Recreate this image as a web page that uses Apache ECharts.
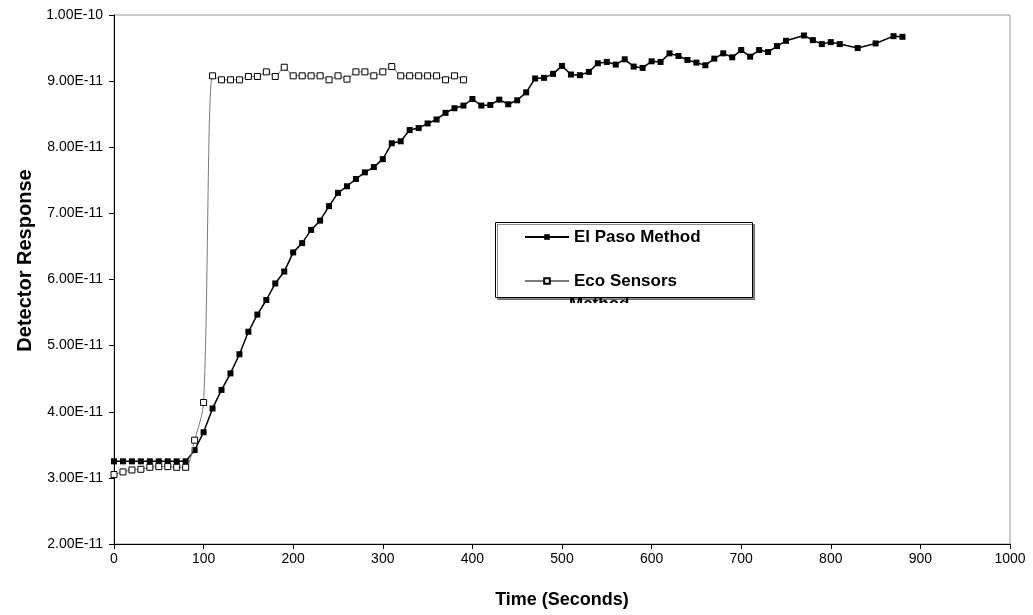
<!DOCTYPE html>
<html>
<head>
<meta charset="utf-8">
<script src="https://cdn.jsdelivr.net/npm/echarts@6/dist/echarts.min.js"></script>
<style>html,body{margin:0;padding:0;background:#fff}#c{width:1033px;height:615px}</style>
</head>
<body>
<div id="c"></div>
<script>
// values in units of 1e-11
const UNIT = 1e-11;
const elPasoTime = [0,10,20,30,40,50,60,70,80,90,100,110,120,130,140,150,160,170,180,190,200,210,220,230,240,250,260,270,280,290,300,310,320,330,340,350,360,370,380,390,400,410,420,430,440,450,460,470,480,490,500,510,520,530,540,550,560,570,580,590,600,610,620,630,640,650,660,670,680,690,700,710,720,730,740,750,770,780,790,800,810,830,850,870,880];
const elPasoValue = [3.25,3.25,3.25,3.25,3.25,3.25,3.25,3.25,3.25,3.42,3.69,4.05,4.33,4.58,4.87,5.21,5.47,5.69,5.94,6.12,6.41,6.55,6.75,6.89,7.11,7.31,7.41,7.52,7.62,7.70,7.82,8.06,8.09,8.26,8.29,8.36,8.42,8.52,8.59,8.63,8.73,8.63,8.64,8.72,8.65,8.71,8.83,9.04,9.05,9.11,9.23,9.10,9.09,9.14,9.27,9.29,9.25,9.33,9.22,9.20,9.30,9.29,9.42,9.38,9.32,9.28,9.24,9.34,9.42,9.36,9.47,9.37,9.47,9.44,9.53,9.61,9.69,9.62,9.56,9.59,9.56,9.50,9.57,9.68,9.67];
const ecoTime = [0,10,20,30,40,50,60,70,80,90,100,110,120,130,140,150,160,170,180,190,200,210,220,230,240,250,260,270,280,290,300,310,320,330,340,350,360,370,380,390];
const ecoValue = [3.05,3.09,3.12,3.13,3.16,3.17,3.17,3.16,3.16,3.57,4.14,9.08,9.02,9.02,9.02,9.07,9.07,9.14,9.07,9.21,9.08,9.08,9.08,9.08,9.02,9.08,9.03,9.14,9.14,9.08,9.14,9.22,9.08,9.08,9.08,9.08,9.08,9.02,9.08,9.02];
const seriesNames = ['El Paso Method', 'Eco Sensors'];
const legendWrapText = 'Method';
const xTitle = 'Time (Seconds)';
const yTitle = 'Detector Response';

const FONT = '"Liberation Sans", Arial, sans-serif';
const pair = (xs, ys) => xs.map((x, i) => [x, ys[i]]);

const chart = echarts.init(document.getElementById('c'), null, {renderer: 'canvas'});
chart.setOption({
  animation: false,
  backgroundColor: '#fff',
  grid: {left: 114, right: 23, top: 15, bottom: 71, show: true, borderColor: '#999', borderWidth: 1, backgroundColor: 'transparent'},
  xAxis: {
    type: 'value', min: 0, max: 1000, interval: 100,
    name: xTitle, nameLocation: 'middle', nameGap: 47,
    nameTextStyle: {fontFamily: FONT, fontSize: 18, fontWeight: 'bold', color: '#000'},
    axisLine: {lineStyle: {color: '#000', width: 1}},
    axisTick: {show: true, length: 5, lineStyle: {color: '#000'}},
    axisLabel: {fontFamily: FONT, fontSize: 14, color: '#000', margin: 8, formatter: v => String(v)},
    splitLine: {show: false}
  },
  yAxis: {
    type: 'value', min: 2, max: 10, interval: 1,
    name: yTitle, nameLocation: 'middle', nameGap: 78, nameRotate: 90,
    nameTextStyle: {fontFamily: FONT, fontSize: 20, fontWeight: 'bold', color: '#000', padding: [0, 0, 0, 38]},
    axisLine: {show: true, lineStyle: {color: '#000', width: 1}},
    axisTick: {show: true, length: 5, lineStyle: {color: '#000'}},
    axisLabel: {fontFamily: FONT, fontSize: 14, color: '#000', margin: 11,
      formatter: v => (v * UNIT).toExponential(2).toUpperCase()},
    splitLine: {show: false}
  },
  legend: {
    orient: 'vertical', left: 519, top: 222, itemWidth: 44, itemHeight: 7, itemGap: 24,
    textStyle: {fontFamily: FONT, fontSize: 17, fontWeight: 'bold', color: '#000', lineHeight: 20},
    data: seriesNames, z: 20
  },
  graphic: [
    {type: 'rect', left: 495, top: 222, z: 10,
     shape: {width: 257, height: 75},
     style: {fill: '#fff', stroke: '#000', lineWidth: 1, shadowColor: 'rgba(0,0,0,0.45)', shadowOffsetX: 2, shadowOffsetY: 2, shadowBlur: 0}},
    {type: 'text', left: 569, top: 296, z: 9,
     style: {text: legendWrapText, font: 'bold 17px ' + FONT, fill: '#000'}},
    {type: 'rect', left: 490, top: 303, z: 12,
     shape: {width: 270, height: 30},
     style: {fill: '#fff'}}
  ],
  series: [
    {name: seriesNames[0], type: 'line', data: pair(elPasoTime, elPasoValue),
     symbol: 'rect', symbolSize: 6, showAllSymbol: true,
     lineStyle: {color: '#000', width: 1.5}, itemStyle: {color: '#000', borderColor: '#000', borderWidth: 0}, z: 3},
    {name: seriesNames[1], type: 'line', data: pair(ecoTime, ecoValue),
     symbol: 'rect', symbolSize: 6, showAllSymbol: true, smooth: 0.3,
     lineStyle: {color: '#7a7a7a', width: 1}, itemStyle: {color: '#fff', borderColor: '#000', borderWidth: 1}, z: 4}
  ]
});
</script>
</body>
</html>
